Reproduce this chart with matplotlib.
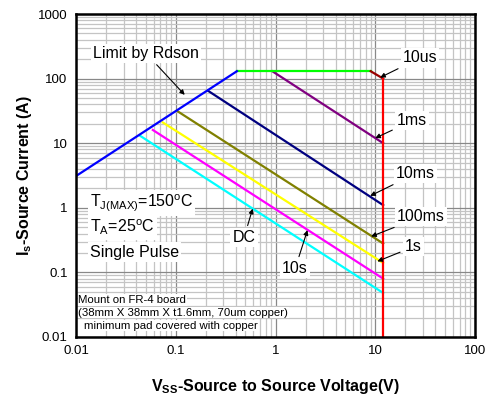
import numpy as np
import matplotlib
matplotlib.use("Agg")
import matplotlib.pyplot as plt

plt.rcParams['font.family'] = ['Liberation Sans', 'DejaVu Sans']
plt.rcParams['mathtext.fontset'] = 'custom'
plt.rcParams['mathtext.rm'] = 'Liberation Sans'
plt.rcParams['mathtext.bf'] = 'Liberation Sans:bold'
plt.rcParams['mathtext.it'] = 'Liberation Sans:italic'

# --- SOA boundary segments (V in volts, I in amps) ---
rdson_v = [0.01, 0.41]
rdson_i = [3.1, 130]
imax_v = [0.41, 9.0]
imax_i = [130, 130]
us10_v = [9.0, 12]
us10_i = [130, 100]
ms1_v = [0.93, 12]
ms1_i = [130, 10]
ms10_v = [0.21, 12]
ms10_i = [65, 1.1]
ms100_v = [0.105, 12]
ms100_i = [31, 0.28]
s1_v = [0.074, 12]
s1_i = [21, 0.14]
s10_v = [0.059, 12]
s10_i = [16, 0.08]
dc_v = [0.044, 12]
dc_i = [13, 0.048]
vmax_v = [12, 12]
vmax_i = [0.01, 100]

xticks = [0.01, 0.1, 1, 10, 100]
xticklabels = ["0.01", "0.1", "1", "10", "100"]
yticks = [0.01, 0.1, 1, 10, 100, 1000]
yticklabels = ["0.01", "0.1", "1", "10", "100", "1000"]

fig = plt.figure(figsize=(4.89, 3.98), dpi=100)
ax = fig.add_axes([0.1554, 0.1533, 0.816, 0.8115])
ax.set_xscale("log")
ax.set_yscale("log")
ax.set_xlim(0.01, 100)
ax.set_ylim(0.01, 1000)

ax.grid(True, which="minor", color="#c4c4c4", linewidth=0.9)
ax.grid(True, which="major", color="#888888", linewidth=0.9)
ax.set_axisbelow(True)

lw = 1.6
ax.plot(dc_v, dc_i, color="#00ffff", lw=lw)
ax.plot(s10_v, s10_i, color="#ff00ff", lw=lw)
ax.plot(s1_v, s1_i, color="#ffff00", lw=lw)
ax.plot(ms100_v, ms100_i, color="#808000", lw=lw)
ax.plot(ms10_v, ms10_i, color="#000080", lw=lw)
ax.plot(ms1_v, ms1_i, color="#800080", lw=lw)
ax.plot(imax_v, imax_i, color="#00ff00", lw=lw)
ax.plot(us10_v, us10_i, color="#990000", lw=lw)
ax.plot(rdson_v, rdson_i, color="#0000ff", lw=lw)
ax.plot(vmax_v, vmax_i, color="#ff0000", lw=lw)

ax.set_xticks(xticks)
ax.set_xticklabels(xticklabels)
ax.set_yticks(yticks)
ax.set_yticklabels(yticklabels)
ax.tick_params(which="both", length=0, labelsize=9.5, pad=6)
for s in ax.spines.values():
    s.set_linewidth(1.8)

ax.set_xlabel(r"V$_{\mathbf{SS}}$-Source to Source Voltage(V)", fontsize=11.5,
              fontweight="bold", labelpad=14)
ax.set_ylabel(r"I$_{\mathbf{s}}$-Source Current (A)", fontsize=11.5,
              fontweight="bold", labelpad=3)

box = dict(facecolor="white", edgecolor="none", pad=1.5)
arrow = dict(arrowstyle="-|>", color="black", lw=0.8, mutation_scale=7,
             shrinkA=2, shrinkB=0)

def label(txt, tip, pos, size=11.5):
    ax.annotate(txt, xy=tip, xycoords="data", xytext=pos,
                textcoords="axes fraction", ha="center", va="center",
                fontsize=size, bbox=box, arrowprops=arrow)

label("Limit by Rdson", (0.123, 56), (0.175, 0.879))
label("10us", (11.2, 104), (0.862, 0.864))
label("1ms", (10, 12), (0.842, 0.669))
label("10ms", (8.9, 1.53), (0.850, 0.505))
label("100ms", (9.1, 0.36), (0.865, 0.372))
label("1s", (10.5, 0.148), (0.845, 0.279))
label("10s", (2.09, 0.45), (0.549, 0.211))
label("DC", (0.59, 0.97), (0.421, 0.307))

ax.text(0.035, 0.415, r"T$_{\mathrm{J(MAX)}}$=150$^{\mathrm{o}}$C", transform=ax.transAxes,
        fontsize=11.5, va="center", ha="left", bbox=box)
ax.text(0.035, 0.338, r"T$_{\mathrm{A}}$=25$^{\mathrm{o}}$C", transform=ax.transAxes,
        fontsize=11.5, va="center", ha="left", bbox=box)
ax.text(0.035, 0.263, "Single Pulse", transform=ax.transAxes,
        fontsize=11.5, va="center", ha="left", bbox=box)

small = dict(facecolor="white", edgecolor="none", pad=0.5)
ax.text(0.006, 0.115, "Mount on FR-4 board", transform=ax.transAxes,
        fontsize=8.2, va="center", ha="left", bbox=small)
ax.text(0.006, 0.075, "(38mm X 38mm X t1.6mm, 70um copper)", transform=ax.transAxes,
        fontsize=8.2, va="center", ha="left", bbox=small)
ax.text(0.02, 0.035, "minimum pad covered with copper", transform=ax.transAxes,
        fontsize=8.2, va="center", ha="left", bbox=small)

fig.savefig("out.png", dpi=100)
